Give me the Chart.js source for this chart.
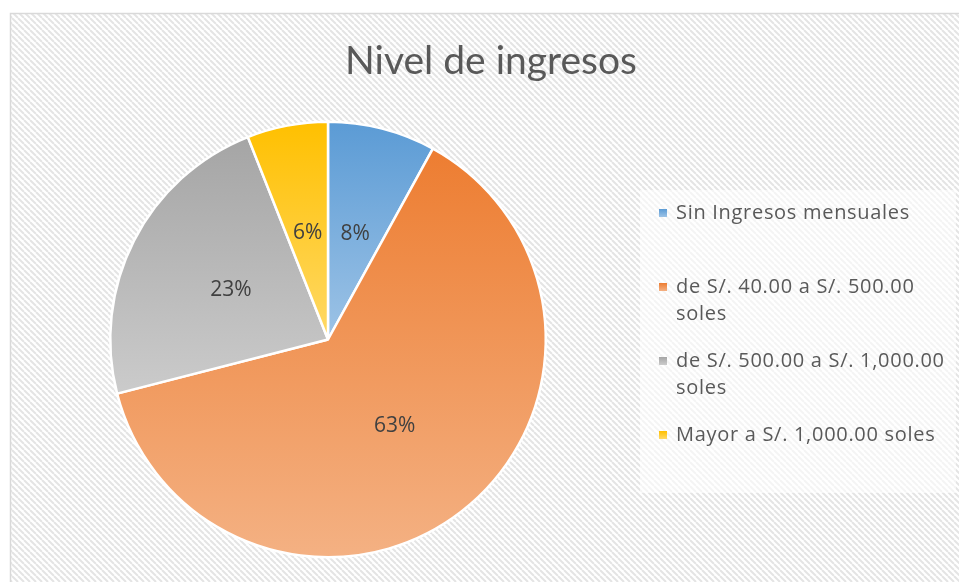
<!DOCTYPE html>
<html>
<head>
<meta charset="utf-8">
<title>Nivel de ingresos</title>
<script src="https://cdn.jsdelivr.net/npm/chart.js@4.4.0/dist/chart.umd.min.js"></script>
<style>
  body { margin: 0; background: #fff; }
  canvas { display: block; }
</style>
</head>
<body>
<canvas id="incomeChart" width="959" height="582"></canvas>
<script>
const chartTitle = "Nivel de ingresos";
// legend text, already broken into lines like the original
const categories = [
  ["Sin Ingresos mensuales"],
  ["de S/. 40.00 a S/. 500.00", "soles"],
  ["de S/. 500.00 a S/. 1,000.00", "soles"],
  ["Mayor a S/. 1,000.00 soles"]
];
const shares = [8, 63, 23, 6];

const topColors = ["#5B9BD5", "#ED7D31", "#A5A5A5", "#FFC000"];
const bottomColors = ["#9DC3E6", "#F4B183", "#CBCBCB", "#FFD966"];

const titleFont = "Lato, 'Open Sans', sans-serif";
const textFont = "'Open Sans', Lato, sans-serif";

// diagonal hatch used by the chart frame
function makeHatch(ctx) {
  const s = 6;
  const tile = document.createElement("canvas");
  tile.width = s;
  tile.height = s;
  const t = tile.getContext("2d");
  t.fillStyle = "#ffffff";
  t.fillRect(0, 0, s, s);
  t.strokeStyle = "#E4E4E4";
  t.lineWidth = 2;
  for (let a = -s; a <= s; a += s) {
    t.beginPath();
    t.moveTo(a, 0);
    t.lineTo(a + s, s);
    t.stroke();
  }
  return ctx.createPattern(tile, "repeat");
}

// vertical extent of one pie slice, used for its gradient
function sliceYRange(arc) {
  const r = arc.outerRadius;
  let y0 = Math.min(arc.y, arc.y + r * Math.sin(arc.startAngle), arc.y + r * Math.sin(arc.endAngle));
  let y1 = Math.max(arc.y, arc.y + r * Math.sin(arc.startAngle), arc.y + r * Math.sin(arc.endAngle));
  for (let k = -2; k <= 2; k++) {
    const up = -Math.PI / 2 + k * 2 * Math.PI;
    const down = Math.PI / 2 + k * 2 * Math.PI;
    if (up >= arc.startAngle && up <= arc.endAngle) y0 = arc.y - r;
    if (down >= arc.startAngle && down <= arc.endAngle) y1 = arc.y + r;
  }
  return [y0, y1];
}

const excelLook = {
  id: "excelLook",
  beforeDraw(chart) {
    const ctx = chart.ctx;
    ctx.save();
    ctx.fillStyle = "#ffffff";
    ctx.fillRect(0, 0, chart.width, chart.height);
    ctx.fillStyle = makeHatch(ctx);
    ctx.fillRect(10, 13, chart.width, chart.height);
    ctx.strokeStyle = "#D9D9D9";
    ctx.lineWidth = 1.5;
    ctx.strokeRect(10.5, 13.5, chart.width, chart.height);

    // legend panel
    ctx.fillStyle = "rgba(255,255,255,0.6)";
    ctx.fillRect(640, 190, 316, 303);

    // title
    ctx.fillStyle = "#595959";
    ctx.font = "39px " + titleFont;
    ctx.textAlign = "center";
    ctx.textBaseline = "middle";
    ctx.fillText(chartTitle, 491, 61);
    ctx.restore();
  },
  beforeDatasetsDraw(chart) {
    const ctx = chart.ctx;
    chart.getDatasetMeta(0).data.forEach((arc, i) => {
      const [y0, y1] = sliceYRange(arc);
      const g = ctx.createLinearGradient(0, y0, 0, y1);
      g.addColorStop(0, topColors[i]);
      g.addColorStop(1, bottomColors[i]);
      arc.options.backgroundColor = g;
    });
  },
  afterDatasetsDraw(chart) {
    const ctx = chart.ctx;
    const values = chart.data.datasets[0].data;
    const total = values.reduce((a, b) => a + b, 0);
    ctx.save();
    ctx.fillStyle = "#404040";
    ctx.font = "21px " + textFont;
    ctx.textAlign = "center";
    ctx.textBaseline = "middle";
    chart.getDatasetMeta(0).data.forEach((arc, i) => {
      const p = arc.tooltipPosition();
      ctx.fillText(Math.round(values[i] / total * 100) + "%", p.x, p.y);
    });
    ctx.restore();
  },
  afterDraw(chart) {
    const ctx = chart.ctx;
    ctx.save();
    ctx.font = "20px " + textFont;
    ctx.letterSpacing = "0.7px";
    ctx.textAlign = "left";
    ctx.textBaseline = "middle";
    chart.data.labels.forEach((lines, i) => {
      const y = 213 + i * 74;
      const g = ctx.createLinearGradient(0, y - 4, 0, y + 4);
      g.addColorStop(0, topColors[i]);
      g.addColorStop(1, bottomColors[i]);
      ctx.fillStyle = g;
      ctx.fillRect(659, y - 4, 8, 8);
      ctx.fillStyle = "#595959";
      lines.forEach((line, j) => ctx.fillText(line, 676, y + j * 27));
    });
    ctx.restore();
  }
};

const ctx = document.getElementById("incomeChart").getContext("2d");
new Chart(ctx, {
  type: "pie",
  data: {
    labels: categories,
    datasets: [{
      data: shares,
      backgroundColor: topColors,
      borderColor: "#ffffff",
      borderWidth: 2.5
    }]
  },
  options: {
    responsive: false,
    animation: false,
    layout: { padding: { left: 109, right: 412, top: 120, bottom: 23 } },
    plugins: {
      legend: { display: false },
      tooltip: { enabled: false }
    }
  },
  plugins: [excelLook]
});
</script>
</body>
</html>
